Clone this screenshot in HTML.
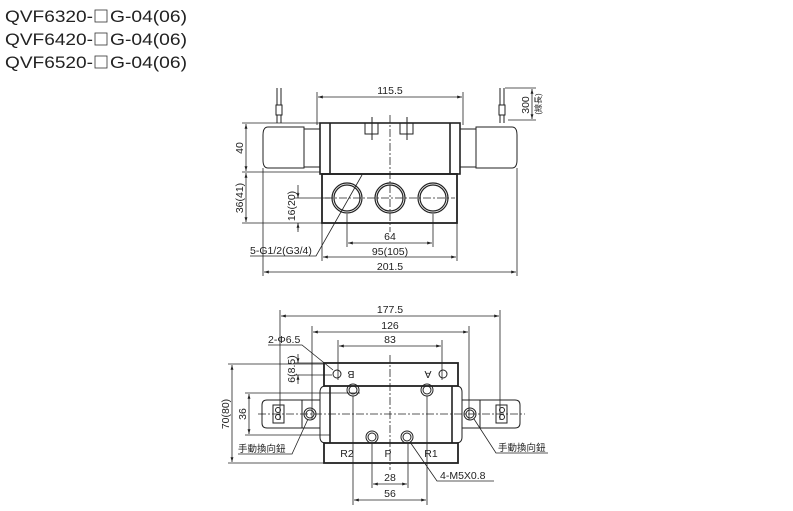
<!DOCTYPE html>
<html><head><meta charset="utf-8"><style>
html,body{margin:0;padding:0;background:#fff;}
svg{display:block;}
text{font-family:"Liberation Sans","Noto Sans CJK TC",sans-serif;fill:#222;}
</style></head><body>
<svg width="793" height="511" viewBox="0 0 793 511" xmlns="http://www.w3.org/2000/svg">
<defs>
<marker id="a" viewBox="0 0 10 10" refX="10" refY="5" markerWidth="6" markerHeight="6" orient="auto-start-reverse"><path d="M0,2 L10,5 L0,8 z" fill="#222"/></marker>
</defs>
<g font-size="17">
<text x="5" y="22" textLength="88" lengthAdjust="spacingAndGlyphs">QVF6320-</text>
<text x="110" y="22" textLength="77" lengthAdjust="spacingAndGlyphs">G-04(06)</text>
<text x="5" y="45" textLength="88" lengthAdjust="spacingAndGlyphs">QVF6420-</text>
<text x="110" y="45" textLength="77" lengthAdjust="spacingAndGlyphs">G-04(06)</text>
<text x="5" y="68" textLength="88" lengthAdjust="spacingAndGlyphs">QVF6520-</text>
<text x="110" y="68" textLength="77" lengthAdjust="spacingAndGlyphs">G-04(06)</text>
</g>
<g fill="none" stroke="#333" stroke-width="0.8">
<rect x="95" y="10" width="12" height="12"/><rect x="95" y="33" width="12" height="12"/><rect x="95" y="56" width="12" height="12"/>
</g>

<!-- TOP VIEW -->
<g fill="none" stroke="#222" stroke-width="1">
<path d="M268,127 L304,127 L304,168 L268,168 Q263,168 263,160 L263,135 Q263,127 268,127 Z"/>
<path d="M512,127 L476,127 L476,168 L512,168 Q517,168 517,160 L517,135 Q517,127 512,127 Z"/>
<rect x="304" y="129" width="16" height="38"/>
<rect x="460" y="129" width="16" height="38"/>
<rect x="320" y="123" width="140" height="51" stroke-width="1.6"/>
<line x1="330" y1="123" x2="330" y2="174" stroke-width="1.6"/>
<line x1="450" y1="123" x2="450" y2="174" stroke-width="1.6"/>
<rect x="322" y="174" width="135" height="49" stroke-width="1.8"/>
<rect x="365" y="123" width="13" height="11"/><rect x="400" y="123" width="13" height="11"/>
<line x1="372" y1="117" x2="372" y2="140"/><line x1="407" y1="117" x2="407" y2="140"/>
<g stroke-width="1.2">
<circle cx="347" cy="198" r="15"/><circle cx="347" cy="198" r="13"/>
<circle cx="390" cy="198" r="15"/><circle cx="390" cy="198" r="13"/>
<circle cx="433" cy="198" r="15"/><circle cx="433" cy="198" r="13"/>
</g>
<path d="M277,88 L277,105 M281,88 L281,105 M276,105 L282,105 L282,115 L276,115 Z M277,115 L277,123 M281,115 L281,123"/>
<path d="M500,88 L500,105 M504,88 L504,105 M499,105 L505,105 L505,115 L499,115 Z M500,115 L500,123 M504,115 L504,123"/>
<line x1="505" y1="88" x2="536" y2="88" stroke-width="0.8"/>
</g>
<g stroke="#222" stroke-width="0.8" fill="none">
<line x1="390" y1="115" x2="390" y2="232" stroke-dasharray="8,2,2,2"/>
<line x1="325" y1="198" x2="455" y2="198" stroke-dasharray="8,2,2,2"/>
<line x1="317" y1="92" x2="317" y2="125"/><line x1="463" y1="92" x2="463" y2="125"/>
<line x1="242" y1="123" x2="320" y2="123"/><line x1="242" y1="172" x2="320" y2="172"/><line x1="242" y1="223" x2="322" y2="223"/>
<line x1="294" y1="198" x2="330" y2="198"/>
<line x1="347" y1="214" x2="347" y2="247"/><line x1="433" y1="214" x2="433" y2="247"/>
<line x1="322" y1="223" x2="322" y2="261"/><line x1="457" y1="223" x2="457" y2="261"/>
<line x1="263" y1="168" x2="263" y2="276"/><line x1="517" y1="168" x2="517" y2="276"/>
<line x1="318" y1="97" x2="462" y2="97" marker-start="url(#a)" marker-end="url(#a)"/>
<line x1="532" y1="89" x2="532" y2="119" marker-start="url(#a)" marker-end="url(#a)"/>
<line x1="508" y1="120" x2="536" y2="120"/>
<line x1="246" y1="124" x2="246" y2="171" marker-start="url(#a)" marker-end="url(#a)"/>
<line x1="246" y1="173" x2="246" y2="222" marker-start="url(#a)" marker-end="url(#a)"/>
<line x1="298" y1="185" x2="298" y2="198"/><line x1="298" y1="223" x2="298" y2="232"/>
<line x1="298" y1="192" x2="298" y2="198" marker-end="url(#a)"/><line x1="298" y1="230" x2="298" y2="223" marker-end="url(#a)"/>
<line x1="348" y1="243" x2="432" y2="243" marker-start="url(#a)" marker-end="url(#a)"/>
<line x1="323" y1="257" x2="456" y2="257" marker-start="url(#a)" marker-end="url(#a)"/>
<line x1="264" y1="272" x2="516" y2="272" marker-start="url(#a)" marker-end="url(#a)"/>
<polyline points="250,256 316,256 362,175"/>
</g>
<g font-size="10.5">
<text x="390" y="94" text-anchor="middle">115.5</text>
<text x="390" y="240" text-anchor="middle">64</text>
<text x="390" y="255" text-anchor="middle">95(105)</text>
<text x="390" y="270" text-anchor="middle">201.5</text>
<text x="250" y="254">5-G1/2(G3/4)</text>
<text transform="translate(243,148) rotate(-90)" text-anchor="middle">40</text>
<text transform="translate(243,198) rotate(-90)" text-anchor="middle">36(41)</text>
<text transform="translate(295,206) rotate(-90)" text-anchor="middle">16(20)</text>
<text transform="translate(529,105) rotate(-90)" text-anchor="middle">300</text>
<text transform="translate(541,104) rotate(-90)" text-anchor="middle" font-size="8">(線長)</text>
</g>

<!-- BOTTOM VIEW -->
<g fill="none" stroke="#222" stroke-width="1">
<rect x="324" y="363" width="134" height="23" stroke-width="1.8"/>
<path d="M326,386 L456,386 Q462,386 462,392 L462,437 Q462,443 456,443 L326,443 Q320,443 320,437 L320,392 Q320,386 326,386 Z"/>
<line x1="330" y1="386" x2="330" y2="443" stroke-width="1.6"/>
<line x1="452" y1="386" x2="452" y2="443" stroke-width="1.6"/>
<rect x="324" y="443" width="134" height="20" stroke-width="1.8"/>
<path d="M320,400 L267,400 Q262,400 262,405 L262,423 Q262,428 267,428 L320,428"/>
<path d="M462,400 L515,400 Q520,400 520,405 L520,423 Q520,428 515,428 L462,428"/>
<line x1="302" y1="400" x2="302" y2="428"/><line x1="480" y1="400" x2="480" y2="428"/>
<rect x="273" y="405" width="11" height="18"/><rect x="496" y="405" width="11" height="18"/>
<circle cx="278" cy="410" r="2.5"/><circle cx="278" cy="417" r="2.5"/>
<circle cx="502" cy="410" r="2.5"/><circle cx="502" cy="417" r="2.5"/>
<circle cx="337" cy="374" r="4"/><circle cx="443" cy="374" r="4"/>
<circle cx="353" cy="390" r="6"/><circle cx="353" cy="390" r="4"/>
<circle cx="427" cy="390" r="6"/><circle cx="427" cy="390" r="4"/>
<circle cx="372" cy="437" r="6"/><circle cx="372" cy="437" r="4"/>
<circle cx="407" cy="437" r="6"/><circle cx="407" cy="437" r="4"/>
<circle cx="310" cy="414" r="6"/><circle cx="310" cy="414" r="4"/>
<circle cx="470" cy="414" r="6"/><circle cx="470" cy="414" r="4"/>
</g>
<g stroke="#222" stroke-width="0.8" fill="none">
<line x1="258" y1="414" x2="525" y2="414" stroke-dasharray="8,2,2,2"/>
<line x1="390" y1="355" x2="390" y2="470" stroke-dasharray="8,2,2,2"/>
<line x1="280" y1="310" x2="280" y2="420"/><line x1="500" y1="310" x2="500" y2="420"/>
<line x1="312" y1="326" x2="312" y2="420"/><line x1="469" y1="326" x2="469" y2="420"/>
<line x1="338" y1="340" x2="338" y2="380"/><line x1="442" y1="340" x2="442" y2="380"/>
<line x1="281" y1="316" x2="499" y2="316" marker-start="url(#a)" marker-end="url(#a)"/>
<line x1="313" y1="332" x2="468" y2="332" marker-start="url(#a)" marker-end="url(#a)"/>
<line x1="339" y1="346" x2="441" y2="346" marker-start="url(#a)" marker-end="url(#a)"/>
<line x1="294" y1="363" x2="324" y2="363"/><line x1="294" y1="375" x2="332" y2="375"/>
<line x1="298" y1="354" x2="298" y2="363" marker-end="url(#a)"/><line x1="298" y1="384" x2="298" y2="375" marker-end="url(#a)"/>
<line x1="245" y1="393" x2="360" y2="393"/><line x1="245" y1="435" x2="330" y2="435"/>
<line x1="249" y1="394" x2="249" y2="434" marker-start="url(#a)" marker-end="url(#a)"/>
<line x1="228" y1="364" x2="324" y2="364"/><line x1="228" y1="463" x2="324" y2="463"/>
<line x1="232" y1="365" x2="232" y2="462" marker-start="url(#a)" marker-end="url(#a)"/>
<line x1="353" y1="396" x2="353" y2="505"/><line x1="427" y1="396" x2="427" y2="505"/>
<line x1="372" y1="443" x2="372" y2="488"/><line x1="408" y1="443" x2="408" y2="488"/>
<line x1="373" y1="484" x2="407" y2="484" marker-start="url(#a)" marker-end="url(#a)"/>
<line x1="354" y1="500" x2="426" y2="500" marker-start="url(#a)" marker-end="url(#a)"/>
<polyline points="268,345 302,345 333,370"/>
<polyline points="238,454 292,454 308,419"/>
<polyline points="548,453 496,453 474,419"/>
<polyline points="494,481 437,481 410,442"/>
</g>
<g font-size="10.5">
<text x="390" y="313" text-anchor="middle">177.5</text>
<text x="390" y="329" text-anchor="middle">126</text>
<text x="390" y="343" text-anchor="middle">83</text>
<text x="268" y="343">2-Φ6.5</text>
<text transform="translate(295,369) rotate(-90)" text-anchor="middle">6(8.5)</text>
<text transform="translate(246,414) rotate(-90)" text-anchor="middle">36</text>
<text transform="translate(229,414) rotate(-90)" text-anchor="middle">70(80)</text>
<text transform="translate(351,374) rotate(180)" text-anchor="middle" dominant-baseline="middle">B</text>
<text transform="translate(428,374) rotate(180)" text-anchor="middle" dominant-baseline="middle">A</text>
<text x="347" y="457" text-anchor="middle">R2</text>
<text x="388" y="457" text-anchor="middle">P</text>
<text x="431" y="457" text-anchor="middle">R1</text>
<text x="390" y="481" text-anchor="middle">28</text>
<text x="390" y="497" text-anchor="middle">56</text>
<text x="440" y="479">4-M5X0.8</text>
<text x="238" y="452" font-size="9.5">手動換向鈕</text>
<text x="498" y="451" font-size="9.5">手動換向鈕</text>
</g>
</svg>
</body></html>
